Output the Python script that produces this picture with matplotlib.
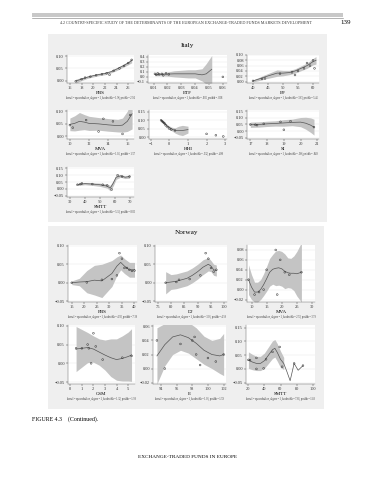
#!/usr/bin/env python3
"""
Local polynomial smooths of ETF market development determinants (Italy / Norway)
"""

import numpy as np
import matplotlib.pyplot as plt

W, H = 375, 480

# ---------------- data ----------------
# Italy, FBS
it_fbs_x = [17, 18, 18.6, 19.5, 20.5, 21.5, 22.3, 22.8, 23.5, 24.5, 25.3, 26.0, 26.6]
it_fbs_y = [-0.003, 0.006, 0.012, 0.016, 0.022, 0.026, 0.03, 0.024, 0.04, 0.05, 0.06, 0.072, 0.085]
it_fbs_lx = [17, 18, 19, 20, 21, 22, 23, 24, 25, 26, 26.6]
it_fbs_ly = [-0.002, 0.006, 0.014, 0.02, 0.025, 0.029, 0.036, 0.047, 0.059, 0.072, 0.082]
it_fbs_bw = [0.008, 0.006, 0.005, 0.005, 0.005, 0.005, 0.005, 0.006, 0.006, 0.007, 0.009]

# Italy, ETF
it_etf_x = [0.011, 0.012, 0.013, 0.014, 0.016, 0.017, 0.019, 0.021, 0.06]
it_etf_y = [0.06, 0.04, 0.07, 0.05, 0.06, 0.03, 0.07, 0.05, 0.0]
it_etf_lx = [0.011, 0.015, 0.02, 0.025, 0.03, 0.035, 0.04, 0.045, 0.048, 0.052]
it_etf_ly = [0.05, 0.052, 0.055, 0.06, 0.06, 0.06, 0.06, 0.04, 0.06, 0.15]
it_etf_bw = [0.03, 0.03, 0.04, 0.06, 0.07, 0.08, 0.08, 0.12, 0.2, 0.27]

# Italy, EF
it_ef_x = [40, 43, 44, 49, 53, 54, 55, 57, 58, 59, 60, 60.5]
it_ef_y = [0.003, 0.01, 0.012, 0.03, 0.035, 0.025, 0.04, 0.05, 0.07, 0.06, 0.08, 0.05]
it_ef_lx = [40, 42, 44, 46, 48, 50, 52, 54, 56, 58, 60, 61]
it_ef_ly = [0.003, 0.01, 0.018, 0.025, 0.032, 0.032, 0.034, 0.04, 0.05, 0.06, 0.075, 0.08]
it_ef_bw = [0.004, 0.006, 0.008, 0.01, 0.012, 0.01, 0.008, 0.008, 0.009, 0.01, 0.012, 0.014]

# Italy, MVA
it_mva_x = [10, 10.3, 11.7, 13, 13.5, 14.5, 15.5, 16.3]
it_mva_y = [0.045, 0.035, 0.065, 0.02, 0.07, 0.06, 0.01, 0.085]
it_mva_lx = [10, 10.5, 11, 11.5, 12, 13, 14, 15, 15.5, 16, 16.5]
it_mva_ly = [0.048, 0.052, 0.06, 0.057, 0.052, 0.05, 0.046, 0.043, 0.045, 0.06, 0.09]
it_mva_bw = [0.025, 0.03, 0.035, 0.03, 0.028, 0.025, 0.025, 0.025, 0.028, 0.04, 0.06]

# Italy, HHI
it_hhi_x = [-0.45, -0.4, -0.35, -0.3, -0.25, -0.2, -0.1, 0.0, 0.1, 0.3, 2.0, 2.5, 2.9]
it_hhi_y = [0.1, 0.095, 0.09, 0.085, 0.08, 0.07, 0.06, 0.05, 0.045, 0.04, 0.02, 0.012, 0.005]
it_hhi_lx = [-0.45, -0.3, -0.1, 0.1, 0.3, 0.5, 0.7, 1.0]
it_hhi_ly = [0.1, 0.085, 0.065, 0.05, 0.04, 0.04, 0.04, 0.045]
it_hhi_bw = [0.008, 0.008, 0.008, 0.01, 0.015, 0.025, 0.03, 0.02]

# Italy, SI
it_si_x = [17.0, 17.3, 17.4, 17.8, 18.8, 19.0, 19.4, 20.8]
it_si_y = [0.05, 0.048, 0.045, 0.055, 0.07, 0.01, 0.075, 0.03]
it_si_lx = [17.0, 17.5, 18.0, 18.5, 19.0, 19.5, 20.0, 20.3, 20.6, 20.8]
it_si_ly = [0.048, 0.05, 0.055, 0.058, 0.062, 0.066, 0.068, 0.06, 0.045, 0.03]
it_si_bw = [0.02, 0.02, 0.02, 0.02, 0.025, 0.025, 0.035, 0.045, 0.055, 0.06]

# Italy, SMTT
it_smtt_x = [35, 37, 38, 45, 52, 55, 58, 62, 65, 70]
it_smtt_y = [0.03, 0.035, 0.04, 0.035, 0.03, 0.025, -0.005, 0.1, 0.09, 0.09]
it_smtt_lx = [35, 40, 45, 50, 55, 57, 59, 61, 64, 67, 70]
it_smtt_ly = [0.032, 0.038, 0.035, 0.03, 0.02, 0.005, 0.04, 0.085, 0.095, 0.085, 0.09]
it_smtt_bw = [0.008, 0.008, 0.01, 0.012, 0.015, 0.02, 0.02, 0.015, 0.01, 0.01, 0.012]

# Norway, FBS
no_fbs_x = [15, 21, 27, 31, 33, 34, 35, 36, 37, 38, 39, 40]
no_fbs_y = [0.0, 0.001, 0.008, 0.01, 0.02, 0.08, 0.065, 0.04, 0.04, 0.035, 0.032, 0.033]
no_fbs_lx = [15, 18, 21, 24, 27, 29, 31, 33, 34.5, 36, 38, 40]
no_fbs_ly = [0.0, 0.002, 0.003, 0.007, 0.005, 0.015, 0.025, 0.045, 0.055, 0.045, 0.035, 0.035]
no_fbs_bw = [0.005, 0.01, 0.03, 0.04, 0.045, 0.04, 0.035, 0.025, 0.02, 0.02, 0.02, 0.02]

# Norway, DJ
no_dj_x = [78, 82, 83, 87, 91, 93, 94, 95, 96, 97]
no_dj_y = [0.0, 0.002, 0.008, 0.01, 0.02, 0.08, 0.065, 0.04, 0.03, 0.035]
no_dj_lx = [78, 80, 82, 84, 86, 88, 90, 92, 94, 95, 96, 97]
no_dj_ly = [0.0, 0.002, 0.004, 0.008, 0.012, 0.02, 0.03, 0.042, 0.05, 0.045, 0.035, 0.033]
no_dj_bw = [0.03, 0.02, 0.02, 0.02, 0.02, 0.02, 0.02, 0.02, 0.018, 0.015, 0.015, 0.015]

# Norway, MVA
no_mva_x = [9, 11, 12.5, 14, 15, 18, 18.5, 19.5, 21, 22.5, 26.5]
no_mva_y = [0.02, -0.01, -0.005, 0.0, 0.04, 0.08, -0.01, 0.06, 0.035, 0.03, 0.035]
no_mva_lx = [9, 10, 11, 12, 13, 14, 15, 16, 17, 18, 19, 20, 21, 22, 23, 24, 25, 26.5]
no_mva_ly = [0.02, 0.005, -0.005, -0.005, 0.0, 0.01, 0.022, 0.035, 0.041, 0.043, 0.044, 0.042, 0.037, 0.034, 0.033, 0.033, 0.032, 0.035]
no_mva_bw = [0.03, 0.025, 0.02, 0.02, 0.02, 0.022, 0.025, 0.028, 0.03, 0.035, 0.035, 0.035, 0.035, 0.03, 0.03, 0.035, 0.045, 0.06]

# Norway, CSM
no_csm_x = [0.5, 1.0, 1.5, 1.6, 1.8, 2.0, 2.2, 2.8, 4.5, 5.3]
no_csm_y = [0.04, 0.04, 0.05, 0.04, 0.0, 0.08, 0.045, 0.01, 0.015, 0.02]
no_csm_lx = [0.5, 1.0, 1.5, 2.0, 2.5, 3.0, 3.5, 4.0, 4.5, 5.0, 5.3]
no_csm_ly = [0.038, 0.04, 0.042, 0.038, 0.03, 0.022, 0.015, 0.01, 0.013, 0.018, 0.022]
no_csm_bw = [0.06, 0.05, 0.04, 0.035, 0.035, 0.04, 0.05, 0.055, 0.06, 0.065, 0.07]

# Norway, E
no_e_x = [93.5, 94.5, 96.5, 98.0, 98.3, 98.5, 99.0, 100.0, 101.0, 102.0]
no_e_y = [0.04, 0.0, 0.035, 0.04, 0.045, 0.02, 0.005, 0.015, 0.01, 0.02]
no_e_lx = [93.5, 94.5, 95.5, 96.5, 97.5, 98.5, 99.5, 100.5, 101.5, 102.0]
no_e_ly = [0.018, 0.034, 0.045, 0.048, 0.044, 0.036, 0.026, 0.02, 0.018, 0.02]
no_e_bw = [0.04, 0.03, 0.025, 0.022, 0.022, 0.022, 0.02, 0.02, 0.025, 0.03]

# Norway, SMTT (band stops where the smooth breaks into a zig-zag)
no_smtt_x = [20, 22, 30, 30, 39, 42, 50, 59, 62, 77, 88]
no_smtt_y = [0.033, 0.032, 0.04, 0.0, 0.002, 0.035, 0.062, 0.08, 0.008, 0.02, 0.012]
no_smtt_lx = [20, 25, 30, 35, 40, 45, 50, 53, 56, 60, 64, 68, 72, 77, 82, 88]
no_smtt_ly = [0.032, 0.025, 0.02, 0.02, 0.03, 0.05, 0.07, 0.075, 0.06, 0.035, 0.02, -0.01, -0.043, 0.02, -0.005, 0.012]
no_smtt_bw = [0.03, 0.028, 0.026, 0.026, 0.028, 0.03, 0.032, 0.032, 0.032, 0.03, 0.022, 0, 0, 0, 0, 0]

BG = '#efefef'
BAND = '#c4c4c4'
LINE = '#555555'
SERIF = 'Liberation Serif'


def box(l, t, r, b):
    """pixel box -> figure fraction rect"""
    return [l / W, 1 - b / H, (r - l) / W, (b - t) / H]


def smooth_panel(fig, rect, px, py, lx, ly, bw, xlabel, xlim, ylim,
                 xticks, yticks, caption):
    ax = fig.add_axes(box(*rect))
    lx = np.array(lx)
    ly = np.array(ly)
    bw = np.array(bw)
    ax.fill_between(lx, ly - bw, ly + bw, where=bw > 0, color=BAND, lw=0,
                    zorder=1)
    ax.plot(lx, ly, color=LINE, lw=0.5, zorder=2)
    ax.scatter(px, py, s=1.6, facecolor='none', edgecolor='#333333',
               lw=0.35, zorder=3)
    ax.set_xlim(*xlim)
    ax.set_ylim(*ylim)
    ax.set_xticks(xticks)
    ax.set_yticks(yticks)
    ax.tick_params(labelsize=3.2, length=1.2, width=0.3, pad=1,
                   colors='#333333')
    for lab in ax.get_xticklabels() + ax.get_yticklabels():
        lab.set_family(SERIF)
    for s in ['top', 'right']:
        ax.spines[s].set_visible(False)
    for s in ['left', 'bottom']:
        ax.spines[s].set_linewidth(0.3)
        ax.spines[s].set_color('#555555')
    ax.grid(axis='y', color='#e6e6e6', lw=0.3)
    ax.set_axisbelow(True)
    ax.set_xlabel(xlabel, fontsize=3.6, family=SERIF, labelpad=0.5)
    # caption below the axis title
    l, t, r, b = rect
    fig.text((l + r) / 2 / W, 1 - (b + 15) / H, caption, fontsize=1.8,
             family=SERIF, ha='center', va='center', color='#333333')
    return ax


fig = plt.figure(figsize=(W / 100, H / 100), dpi=100)
fig.patch.set_facecolor('white')

# running head
fig.patches.append(plt.Rectangle((32 / W, 1 - 17 / H), 311 / W, 3.5 / H,
                                 transform=fig.transFigure, color='#c8c8c8',
                                 lw=0, zorder=-10))
fig.add_artist(plt.Line2D([32 / W, 343 / W], [1 - 17.5 / H, 1 - 17.5 / H],
                          transform=fig.transFigure, color='#777777', lw=0.4))
fig.text(186 / W, 1 - 23 / H,
         '4.2 COUNTRY-SPECIFIC STUDY OF THE DETERMINANTS OF THE EUROPEAN EXCHANGE-TRADED FUNDS MARKETS DEVELOPMENT',
         fontsize=3.0, family=SERIF, ha='center', va='center', color='#333333')
fig.text(346 / W, 1 - 23 / H, '139', fontsize=5, family=SERIF,
         ha='center', va='center')

# grey graph regions
fig.patches.append(plt.Rectangle((48 / W, 1 - 222 / H), 279 / W, 188 / H,
                                 transform=fig.transFigure, color=BG, lw=0,
                                 zorder=-10))
fig.patches.append(plt.Rectangle((48 / W, 1 - 409 / H), 276 / W, 183 / H,
                                 transform=fig.transFigure, color=BG, lw=0,
                                 zorder=-10))

fig.text(187 / W, 1 - 45 / H, 'Italy', fontsize=5.2, family=SERIF,
         ha='center', va='center')
fig.text(186 / W, 1 - 233 / H, 'Norway', fontsize=5.2, family=SERIF,
         ha='center', va='center')

cap = 'kernel = epanechnikov, degree = 1, bandwidth = {}, pwidth = {}'

# Italy row 1
smooth_panel(fig, (67, 55, 134, 83), it_fbs_x, it_fbs_y, it_fbs_lx, it_fbs_ly,
             it_fbs_bw, 'FBS', (15.5, 27), (-0.01, 0.105),
             [16, 18, 20, 22, 24, 26], [0, 0.05, 0.1], cap.format('1.96', '2.94'))
smooth_panel(fig, (148, 55, 227, 83), it_etf_x, it_etf_y, it_etf_lx, it_etf_ly,
             it_etf_bw, 'ETF', (0.006, 0.063), (-0.12, 0.43),
             [0.01, 0.02, 0.03, 0.04, 0.05, 0.06], [-0.1, 0, 0.1, 0.2, 0.3, 0.4],
             cap.format('.005', '.008'))
smooth_panel(fig, (247, 55, 319, 83), it_ef_x, it_ef_y, it_ef_lx, it_ef_ly,
             it_ef_bw, 'EF', (38, 62), (-0.005, 0.1),
             [40, 45, 50, 55, 60], [0, 0.02, 0.04, 0.06, 0.08, 0.1],
             cap.format('3.63', '5.45'))

# Italy row 2
smooth_panel(fig, (67, 110, 134, 139), it_mva_x, it_mva_y, it_mva_lx, it_mva_ly,
             it_mva_bw, 'MVA', (9.7, 16.7), (-0.01, 0.105),
             [10, 12, 14, 16], [0, 0.05, 0.1], cap.format('1.05', '1.57'))
smooth_panel(fig, (149, 110, 227, 139), it_hhi_x, it_hhi_y, it_hhi_lx, it_hhi_ly,
             it_hhi_bw, 'HHI', (-1.1, 3.1), (-0.01, 0.16),
             [-1, 0, 1, 2, 3], [0, 0.05, 0.1, 0.15], cap.format('.332', '.498'))
smooth_panel(fig, (247, 110, 319, 139), it_si_x, it_si_y, it_si_lx, it_si_ly,
             it_si_bw, 'SI', (16.8, 21.1), (-0.06, 0.16),
             [17, 18, 19, 20, 21], [-0.05, 0, 0.05, 0.1, 0.15],
             cap.format('.566', '.849'))

# Italy row 3
smooth_panel(fig, (67, 167, 134, 197), it_smtt_x, it_smtt_y, it_smtt_lx, it_smtt_ly,
             it_smtt_bw, 'SMTT', (28, 73), (-0.06, 0.16),
             [30, 40, 50, 60, 70], [-0.05, 0, 0.05, 0.1, 0.15],
             cap.format('5.33', '8.00'))

# Norway row 1
smooth_panel(fig, (68, 245, 137, 302), no_fbs_x, no_fbs_y, no_fbs_lx, no_fbs_ly,
             no_fbs_bw, 'FBS', (13.5, 41), (-0.052, 0.102),
             [15, 20, 25, 30, 35, 40], [-0.05, 0, 0.05, 0.1],
             cap.format('4.92', '7.38'))
smooth_panel(fig, (155, 245, 227, 302), no_dj_x, no_dj_y, no_dj_lx, no_dj_ly,
             no_dj_bw, 'DJ', (74, 101), (-0.052, 0.102),
             [75, 80, 85, 90, 95, 100], [-0.05, 0, 0.05, 0.1],
             cap.format('3.06', '4.59'))
smooth_panel(fig, (247, 245, 315, 302), no_mva_x, no_mva_y, no_mva_lx, no_mva_ly,
             no_mva_bw, 'MVA', (8.5, 31), (-0.025, 0.09),
             [10, 15, 20, 25, 30], [-0.02, 0, 0.02, 0.04, 0.06, 0.08],
             cap.format('2.53', '3.79'))

# Norway row 2
smooth_panel(fig, (68, 325, 135, 384), no_csm_x, no_csm_y, no_csm_lx, no_csm_ly,
             no_csm_bw, 'CSM', (-0.2, 5.6), (-0.055, 0.102),
             [0, 1, 2, 3, 4, 5], [-0.05, 0, 0.05, 0.1],
             cap.format('1.32', '1.98'))
smooth_panel(fig, (153, 325, 226, 384), no_e_x, no_e_y, no_e_lx, no_e_ly,
             no_e_bw, 'E', (93, 102.3), (-0.022, 0.062),
             [94, 96, 98, 100, 102], [-0.02, 0, 0.02, 0.04, 0.06],
             cap.format('1.06', '1.59'))
smooth_panel(fig, (246, 325, 315, 384), no_smtt_x, no_smtt_y, no_smtt_lx, no_smtt_ly,
             no_smtt_bw, 'SMTT', (17, 103), (-0.055, 0.16),
             [20, 40, 60, 80, 100], [-0.05, 0, 0.05, 0.1, 0.15],
             cap.format('7.85', '11.8'))

fig.text(32 / W, 1 - 419 / H, 'FIGURE 4.3    (Continued).', fontsize=4.2,
         family=SERIF, ha='left', va='center')
fig.text(188 / W, 1 - 457 / H, 'EXCHANGE-TRADED FUNDS IN EUROPE', fontsize=3.8,
         family=SERIF, ha='center', va='center')

fig.savefig('out.png', dpi=100)
plt.close(fig)
